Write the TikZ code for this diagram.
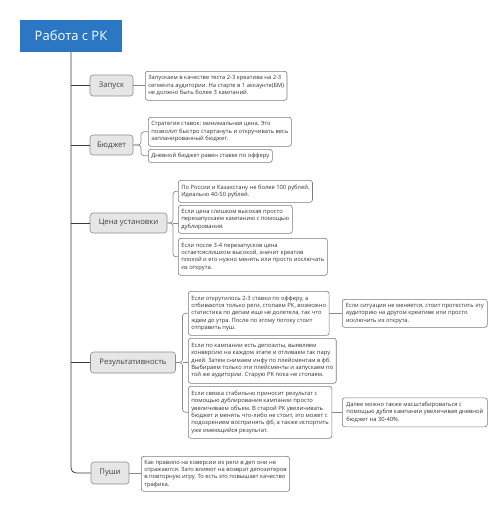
\documentclass[tikz,border=0pt]{standalone}
\usepackage{fontspec}
\setmainfont{Open Sans}
\frenchspacing
\definecolor{titleblue}{HTML}{2B77C3}
\definecolor{branchfill}{HTML}{E6E6E6}
\definecolor{branchdraw}{HTML}{8C8C8C}
\definecolor{leafdraw}{HTML}{7A7A7A}
\definecolor{conncol}{HTML}{8A8A8A}
\definecolor{trunkcol}{HTML}{3A3A3A}
\begin{document}
\begin{tikzpicture}[x=1pt,y=-1pt,
  titlebox/.style={fill=titleblue, text=white, minimum width=102pt, minimum height=32pt, inner sep=0pt, font=\fontsize{13}{15}\selectfont},
  branch/.style={fill=branchfill, draw=branchdraw, line width=0.6pt, rounded corners=3pt, inner sep=0pt, font=\fontsize{7.7}{9}\selectfont, text=black!75},
  leaf/.style={draw=leafdraw, line width=0.6pt, fill=white, rounded corners=2.5pt, anchor=north west, inner xsep=3pt, inner ysep=2pt, align=left, font=\fontsize{5.8}{7.4}\selectfont, text=black!80},
  trunk/.style={draw=trunkcol, line width=0.8pt},
  conn/.style={draw=conncol, line width=0.7pt, rounded corners=3pt}]
\useasboundingbox (0,0) rectangle (492,512);

\node[titlebox] (title) at (71,36) {Работа с РК};

% branch nodes
\node[branch, minimum width=43pt, minimum height=21pt] (zap) at (111.5,85.5) {Запуск};
\node[branch, minimum width=43pt, minimum height=20pt] (bud) at (111.5,145) {Бюджет};
\node[branch, minimum width=77pt, minimum height=20pt] (cena) at (128.5,223) {Цена установки};
\node[branch, minimum width=85pt, minimum height=21pt] (res) at (133,362.5) {Результативность};
\node[branch, minimum width=38pt, minimum height=22pt] (push) at (110,473) {Пуши};

% leaves
\node[leaf, minimum height=29pt] (z1) at (145,71) {Запускаем в качестве теста 2-3 креатива на 2-3\\сегмента аудитории. На старте в 1 аккаунте(БМ)\\не должно быть более 3 кампаний.};
\node[leaf, minimum height=29pt] (b1) at (148,117) {Стратегия ставок: минимальная цена. Это\\позволит быстро стартануть и откручивать весь\\запланированный бюджет.};
\node[leaf, minimum height=13pt] (b2) at (148,149) {Дневной бюджет равен ставке по офферу};
\node[leaf, minimum height=22pt] (c1) at (178,180) {По России и Казахстану не более 100 рублей.\\Идеально 40-50 рублей.};
\node[leaf, minimum height=28pt, minimum width=114pt] (c2) at (178,205) {Если цена слишком высокая просто\\перезапускаем кампанию с помощью\\дублирования.};
\node[leaf, minimum height=37pt] (c3) at (178,238) {Если после 3-4 перезапусков цена\\остаетсяслишком высокой, значит креатив\\плохой и его нужно менять или просто исключать\\из открута.};
\node[leaf, minimum height=44pt] (r1) at (188,291) {Если открутилось 2-3 ставки по офферу, а\\отбиваются только реги, стопаем РК, возможно\\статистика по депам еще не долетела, так что\\ждем до утра. После по этому потоку стоит\\отправить пуш.};
\node[leaf, minimum height=45pt] (r2) at (188,338) {Если по кампании есть депозиты, выявляем\\конверсию на каждом этапе и отливаем так пару\\дней. Затем снимаем инфу по плейсментам в фб.\\Выбираем только эти плейсменты и запускаем по\\той же аудитории. Старую РК пока не стопаем.};
\node[leaf, minimum height=52pt] (r3) at (188,386) {Если связка стабильно приносит результат с\\помощью дублирования кампании просто\\увеличиваем объем. В старой РК увеличивать\\бюджет и менять что-либо не стоит, это может с\\подозрением воспринять фб, а также испортить\\уже имеющийся результат.};
\node[leaf, minimum height=28pt, minimum width=145pt] (rr1) at (342,299) {Если ситуация не меняется, стоит протестить эту\\аудиторию на другом креативе или просто\\исключить из открута.};
\node[leaf, minimum height=29pt, minimum width=145pt] (rr2) at (342,397.5) {Далее можно также масштабироваться с\\помощью дубля кампании увеличивая дневной\\бюджет на 30-40\%.};
\node[leaf, minimum height=35pt] (p1) at (141,456) {Как правило на коверсии из реги в деп они не\\отражаются. Зато влияют на возврат депозитеров\\в повторную игру. То есть это повышает качество\\трафика.};

% trunk
\draw[trunk, rounded corners=5pt] (title.south) |- (push.west);
\draw[trunk] (title.south |- zap.west) -- (zap.west);
\draw[trunk] (title.south |- bud.west) -- (bud.west);
\draw[trunk] (title.south |- cena.west) -- (cena.west);
\draw[trunk] (title.south |- res.west) -- (res.west);

% connectors to leaves
\draw[conn] (zap.east) -- (z1.west |- zap.east);
\coordinate (bb) at (141,145);
\draw[conn] (bud.east) -- (bb) |- (b1.west);
\draw[conn] (bud.east) -- (bb) |- (b2.west);
\coordinate (cb) at (173,223);
\draw[conn] (cena.east) -- (cb) |- (c1.west);
\draw[conn] (cena.east) -- (cb) |- (c3.west);
\draw[conn] (cb) -- (c2.west |- cb);
\coordinate (rb) at (182.5,362.5);
\draw[conn] (res.east) -- (rb) |- (r1.west);
\draw[conn] (res.east) -- (rb) |- (r3.west);
\draw[conn] (rb) -- (r2.west |- rb);
\draw[conn] (r1.east) -- (rr1.west |- r1.east);
\draw[conn] (r3.east) -- (rr2.west |- r3.east);
\draw[conn] (push.east) -- (p1.west |- push.east);
\end{tikzpicture}
\end{document}
